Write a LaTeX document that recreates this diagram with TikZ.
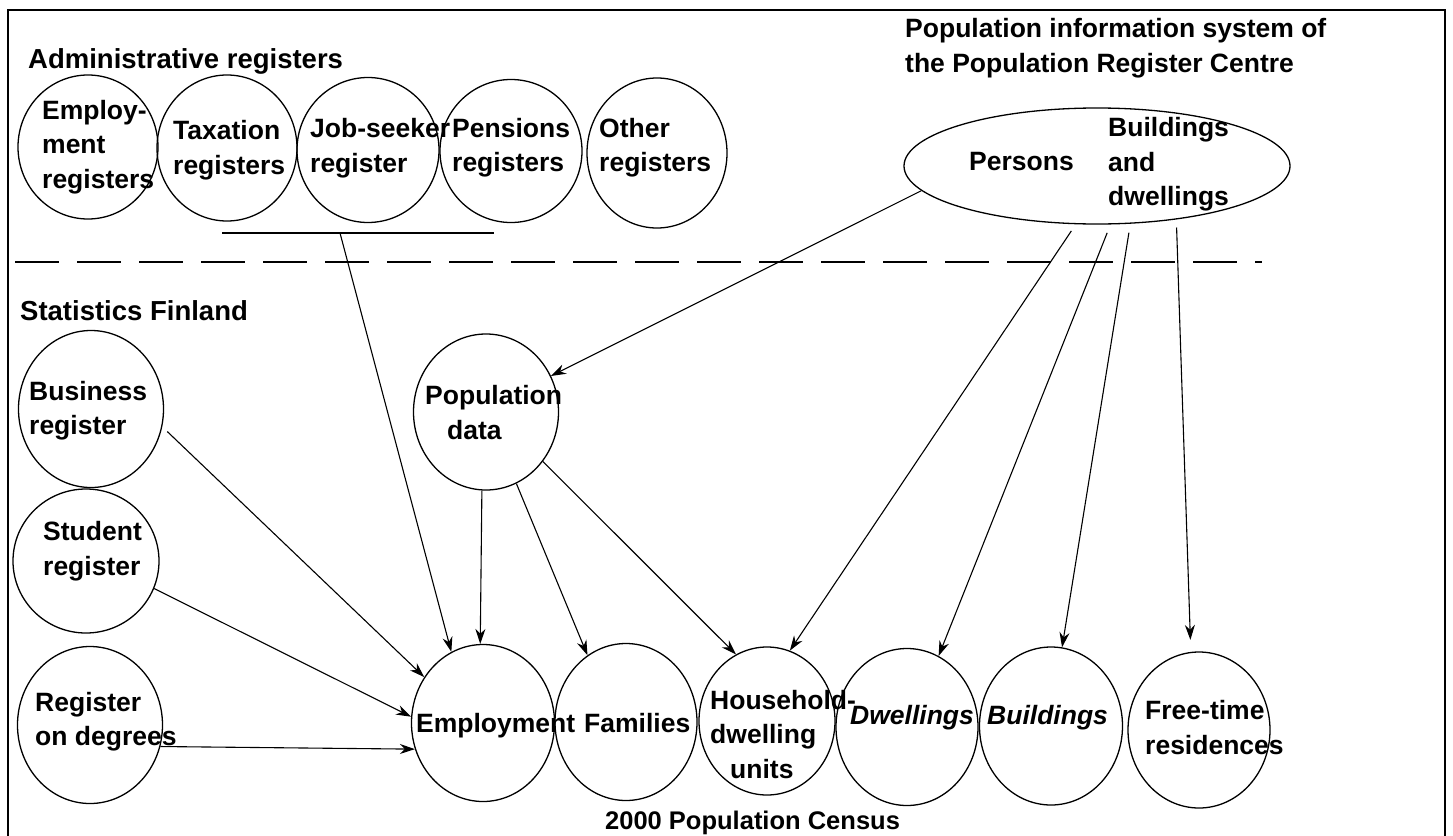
\documentclass[tikz,border=0pt]{standalone}
\usepackage{fontspec}
\setmainfont{Liberation Sans}
\usetikzlibrary{arrows.meta,shapes.geometric}

\begin{document}
\begin{tikzpicture}[x=1pt, y=-1pt,
    reg/.style={draw, ellipse, inner sep=0pt, line width=1.3pt},
    lbl/.style={anchor=west, align=left, inner sep=0pt, font=\fontsize{26.5}{34.5}\selectfont\bfseries},
    head/.style={lbl, font=\fontsize{27.5}{35}\selectfont\bfseries},
    arr/.style={-{Stealth[length=15pt,width=10pt]}, line width=1.1pt}]
    \useasboundingbox (0,0) rectangle (1453,835);

    % Frame
    \draw[line width=1.6pt] (8,10) rectangle (1445,860);

    % Administrative registers
    \node[head] (admtitle) at (28,61) {Administrative registers};
    \node[reg, minimum width=140, minimum height=144] (empreg) at (88,147) {};
    \node[reg, minimum width=140, minimum height=146] (taxreg) at (227,148) {};
    \node[reg, minimum width=142, minimum height=145] (jobreg) at (368,150) {};
    \node[reg, minimum width=142, minimum height=143] (penreg) at (511,151) {};
    \node[reg, minimum width=140, minimum height=150] (othreg) at (657,153) {};
    \node[lbl] (emptxt) at (42,147) {Employ-\\ment\\registers};
    \node[lbl] (taxtxt) at (173,150) {Taxation\\registers};
    \node[lbl] (jobtxt) at (310,148) {Job-seeker\\register};
    \node[lbl] (pentxt) at (452,147.5) {Pensions\\registers};
    \node[lbl] (othtxt) at (599,147.5) {Other\\registers};
    \coordinate (barL) at (222,233);
    \coordinate (barR) at (494,233);
    \coordinate (jbar) at (340,233);
    \draw[line width=1.1pt] (barL) -- (barR);

    % Population Register Centre
    \node[head, font=\fontsize{26.5}{35}\selectfont\bfseries] (pistitle) at (905,48.5) {Population information system of\\the Population Register Centre};
    \node[reg, minimum width=386, minimum height=116] (prc) at (1097,166) {};
    \node[lbl] (perstxt) at (969,162) {Persons};
    \node[lbl] (bdtxt) at (1108,164.5) {Buildings\\and\\dwellings};

    % Border line
    \coordinate (dashL) at (15,262);
    \coordinate (dashR) at (1262,262);
    \draw[line width=1.1pt, dash pattern=on 44pt off 18pt] (dashL) -- (dashR);

    % Statistics Finland
    \node[head] (sftitle) at (20,311) {Statistics Finland};
    \node[reg, minimum width=145, minimum height=157] (busreg) at (91,409) {};
    \node[reg, minimum width=146, minimum height=144] (stureg) at (86,561) {};
    \node[reg, minimum width=145, minimum height=157] (degreg) at (90,725) {};
    \node[reg, minimum width=145, minimum height=156] (popd) at (486,412) {};
    \node[lbl] (bustxt) at (29,410.5) {Business\\register};
    \node[lbl] (stutxt) at (43,551) {Student\\register};
    \node[lbl] (degtxt) at (35,721.5) {Register\\on degrees};
    \node[lbl] (popdtxt) at (425,412.5) {Population\\\hspace*{22pt}data};

    % 2000 Population Census
    \node[reg, minimum width=143, minimum height=157] (emp) at (483,723) {};
    \node[reg, minimum width=142, minimum height=157] (fam) at (626,722) {};
    \node[reg, minimum width=136, minimum height=148] (hh) at (767,721) {};
    \node[reg, minimum width=142, minimum height=157] (dw) at (907,727) {};
    \node[reg, minimum width=143, minimum height=158] (bld) at (1051,726) {};
    \node[reg, minimum width=142, minimum height=156] (ft) at (1199,730) {};
    \node[lbl] (emptitle) at (416,726) {Employment};
    \node[lbl] (famtxt) at (584,723.5) {Families};
    \node[lbl] (hhtxt) at (710,734.5) {Household-\\dwelling\\\hspace*{20pt}units};
    \node[lbl] (dwtxt) at (850,718) {\itshape Dwellings};
    \node[lbl] (bldtxt) at (987,718) {\itshape Buildings};
    \node[lbl] (fttxt) at (1145,727.5) {Free-time\\residences};
    \node[lbl, font=\fontsize{25.5}{30}\selectfont\bfseries] (census) at (605,823) {2000 Population Census};

    % Data flows
    \draw[arr] (jbar) -- (emp.114);
    \draw[arr, shorten <=7pt] (busreg.-14) -- (emp.142);
    \draw[arr] (stureg.-22) -- (emp.175);
    \draw[arr] (degreg.-17) -- (emp.201);
    \draw[arr] (popd.-93) -- (emp.92);
    \draw[arr] (popd.-67) -- (fam.120);
    \draw[arr] (popd.-41) -- (hh.115);
    \draw[arr] (prc.188) -- (popd.29);
    \draw[arr, shorten <=8pt] (prc.-110) -- (hh.72);
    \draw[arr, shorten <=9pt] (prc.-77) -- (dw.66);
    \draw[arr, shorten <=9pt] (prc.-60) -- (bld.82);
    \draw[arr, shorten <=8pt, shorten >=12pt] (prc.-34) -- (ft.96);
\end{tikzpicture}
\end{document}
